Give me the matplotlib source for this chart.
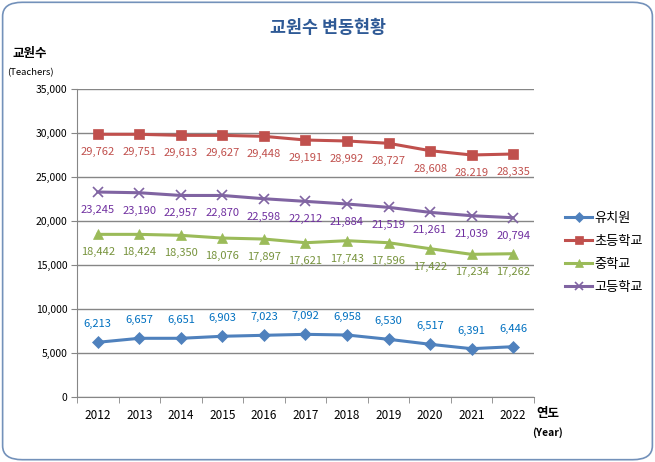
import numpy as np
import matplotlib.pyplot as plt
from matplotlib.patches import FancyBboxPatch
from matplotlib.lines import Line2D

plt.rcParams['font.family'] = ['Noto Sans CJK KR', 'DejaVu Sans']

years = ['2012', '2013', '2014', '2015', '2016', '2017', '2018', '2019', '2020', '2021', '2022']
names = ['유치원', '초등학교', '중학교', '고등학교']

# 선 위치
kinder = [6216, 6670, 6670, 6900, 7010, 7120, 7045, 6557, 5990, 5490, 5715]
elem = [29850, 29850, 29730, 29730, 29620, 29200, 29090, 28830, 27990, 27500, 27610]
middle = [18480, 18480, 18370, 18060, 17950, 17530, 17760, 17530, 16850, 16210, 16280]
high = [23290, 23210, 22900, 22900, 22530, 22230, 21930, 21550, 20980, 20600, 20370]

# 데이터 레이블
kinder_lab = ['6,213', '6,657', '6,651', '6,903', '7,023', '7,092', '6,958', '6,530', '6,517', '6,391', '6,446']
elem_lab = ['29,762', '29,751', '29,613', '29,627', '29,448', '29,191', '28,992', '28,727', '28,608', '28.219', '28,335']
middle_lab = ['18,442', '18,424', '18,350', '18,076', '17,897', '17,621', '17,743', '17,596', '17,422', '17,234', '17,262']
high_lab = ['23,245', '23,190', '22,957', '22,870', '22,598', '22,212', '21,884', '21,519', '21,261', '21,039', '20,794']

series = [kinder, elem, middle, high]
labels = [kinder_lab, elem_lab, middle_lab, high_lab]
line_colors = ['#4F81BD', '#C0504D', '#9BBB59', '#8064A2']
text_colors = ['#0070C0', '#C0504D', '#77933C', '#7030A0']
markers = ['D', 's', '^', 'x']
msizes = [6, 7, 7, 7]
offsets = [-18, 18, 18, 18]

fig = plt.figure(figsize=(6.55, 4.62), dpi=100)
ax = fig.add_axes([0.1176, 0.1407, 0.6975, 0.6667])

x = np.arange(len(years))
for s, lab, lc, tc, m, ms, off in zip(series, labels, line_colors, text_colors, markers, msizes, offsets):
    ax.plot(x, s, color=lc, lw=2.2, marker=m, markersize=ms, markeredgewidth=1.2 if m == 'x' else 0.5,
            markeredgecolor=lc, zorder=3)
    for xi, yi, t in zip(x, s, lab):
        ax.annotate(t, (xi, yi), xytext=(0, -off), textcoords='offset pixels',
                    ha='center', va='center', fontsize=8, color=tc)

ax.set_xlim(-0.5, 10.5)
ax.set_ylim(0, 35000)
ax.set_yticks(np.arange(0, 35001, 5000))
ax.set_yticklabels(['{:,}'.format(v) for v in range(0, 35001, 5000)], fontsize=7.5)
ax.set_xticks(x)
ax.set_xticklabels(years, fontsize=8.5)
ax.set_xticks(np.arange(-0.5, 11, 1), minor=True)
ax.tick_params(axis='x', which='major', length=0, pad=9)
ax.tick_params(axis='x', which='minor', length=4, color='#868686', direction='out')
ax.tick_params(axis='y', length=4, color='#868686', pad=3)
ax.grid(axis='y', color='#868686', lw=1)
ax.set_axisbelow(True)
for sp in ['top', 'right']:
    ax.spines[sp].set_visible(False)
for sp in ['left', 'bottom']:
    ax.spines[sp].set_color('#868686')

fig.text(0.5, 0.94, '교원수 변동현황', ha='center', va='center', fontsize=12.5, fontweight='bold', color='#2F5A96')
fig.text(0.046, 0.885, '교원수', ha='center', va='center', fontsize=9, fontweight='bold')
fig.text(0.046, 0.842, '(Teachers)', ha='center', va='center', fontsize=6.8)
fig.text(0.836, 0.106, '연도', ha='center', va='center', fontsize=9, fontweight='bold')
fig.text(0.836, 0.063, '(Year)', ha='center', va='center', fontsize=7.5, fontweight='bold')

handles = [Line2D([], [], color=lc, lw=2.2, marker=m, markersize=ms - 1, markeredgecolor=lc,
                  markeredgewidth=1.2 if m == 'x' else 0.5)
           for lc, m, ms in zip(line_colors, markers, msizes)]
fig.legend(handles, names, loc='center left', bbox_to_anchor=(0.845, 0.453), frameon=False,
           fontsize=9.5, handlelength=2.0, handletextpad=0.2, labelspacing=0.75)

border = FancyBboxPatch((0.004, 0.005), 0.992, 0.99, boxstyle='round,pad=0,rounding_size=0.03',
                        transform=fig.transFigure, fill=False, edgecolor='#7391BA', lw=1.2)
fig.patches.append(border)

fig.savefig('out.png', dpi=100)
